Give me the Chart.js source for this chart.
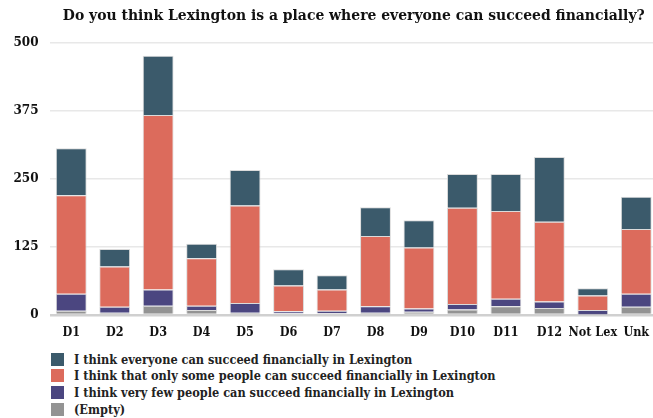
<!DOCTYPE html>
<html>
<head>
<meta charset="utf-8">
<script src="https://cdn.jsdelivr.net/npm/chart.js@4/dist/chart.umd.min.js"></script>
<style>
  html, body { margin: 0; padding: 0; background: #fff; overflow: hidden; }
  body { width: 653px; height: 418px; font-family: "DejaVu Serif Condensed", "DejaVu Serif", serif; }
  #chart-box { position: relative; width: 658px; height: 345px; }
  #legend { list-style: none; margin: 0; padding: 6px 0 0 51px; }
  #legend li { display: flex; align-items: center; height: 16.6px; font-size: 12.6px; font-weight: bold; color: #222; white-space: nowrap; }
  #legend .swatch { width: 13px; height: 13px; margin-right: 10px; flex: none; }
</style>
</head>
<body>
<div id="chart-box"><canvas id="myChart"></canvas></div>
<ul id="legend"></ul>
<script>
// Data
const districts = ["D1", "D2", "D3", "D4", "D5", "D6", "D7", "D8", "D9", "D10", "D11", "D12", "Not Lex", "Unk"];
const yTicks = [0, 125, 250, 375, 500];

const empty    = [8, 4, 17, 9, 4, 3, 3, 4, 6, 10, 16, 13, 1, 15];
const veryFew  = [31, 11, 30, 8, 18, 4, 5, 12, 6, 10, 14, 12, 8, 24];
const onlySome = [181, 74, 320, 87, 179, 47, 39, 129, 112, 177, 161, 146, 27, 119];
const everyone = [86, 32, 109, 27, 65, 30, 26, 53, 50, 62, 68, 119, 13, 59];

const seriesNames = [
  "(Empty)",
  "I think very few people can succeed financially in Lexington",
  "I think that only some people can succeed financially in Lexington",
  "I think everyone can succeed financially in Lexington"
];
const seriesColors = ["#939393", "#4b4680", "#dc6b5c", "#3b5a6b"];
const seriesValues = [empty, veryFew, onlySome, everyone];

const fontFamily = "'DejaVu Serif Condensed', 'DejaVu Serif', serif";
const tickFamily = "'DejaVu Serif', serif";

const datasets = seriesValues.map((values, i) => ({
  label: seriesNames[i],
  data: values,
  backgroundColor: seriesColors[i],
  borderColor: "rgba(210,210,210,0.8)",
  borderWidth: 1,
  barPercentage: 0.71,
  categoryPercentage: 1
}));

const chart = new Chart(document.getElementById("myChart"), {
  type: "bar",
  data: { labels: districts, datasets: datasets },
  options: {
    responsive: true,
    maintainAspectRatio: false,
    animation: false,
    plugins: {
      legend: { display: false },
      tooltip: { enabled: false },
      title: {
        display: true,
        fullSize: false,
        text: "Do you think Lexington is a place where everyone can succeed financially?",
        color: "#111",
        font: { family: fontFamily, size: 15.5, weight: "bold" },
        padding: { top: 7, bottom: 17 }
      }
    },
    scales: {
      x: {
        stacked: true,
        grid: { display: false },
        border: { display: false },
        ticks: { color: "#111", font: { family: fontFamily, size: 12.5, weight: "bold" }, padding: 2, maxRotation: 0, autoSkip: false },
        afterFit: scale => { scale.height = 30; }
      },
      y: {
        stacked: true,
        min: 0,
        max: 500,
        afterBuildTicks: scale => { scale.ticks = yTicks.map(v => ({ value: v })); },
        grid: {
          color: ctx => ctx.tick && ctx.tick.value === 0 ? "#d0d0d0" : "#e8e8e8",
          lineWidth: ctx => ctx.tick && ctx.tick.value === 0 ? 2.5 : 1.5,
          drawTicks: false
        },
        border: { display: false },
        ticks: { color: "#111", font: { family: tickFamily, size: 12, weight: "bold" }, padding: 11 },
        afterFit: scale => { scale.width = 49.5; }
      }
    }
  }
});

// HTML legend, top of the stack first
const legend = document.getElementById("legend");
for (let i = datasets.length - 1; i >= 0; i--) {
  const li = document.createElement("li");
  const swatch = document.createElement("span");
  swatch.className = "swatch";
  swatch.style.background = datasets[i].backgroundColor;
  li.append(swatch, document.createTextNode(datasets[i].label));
  legend.appendChild(li);
}
</script>
</body>
</html>
